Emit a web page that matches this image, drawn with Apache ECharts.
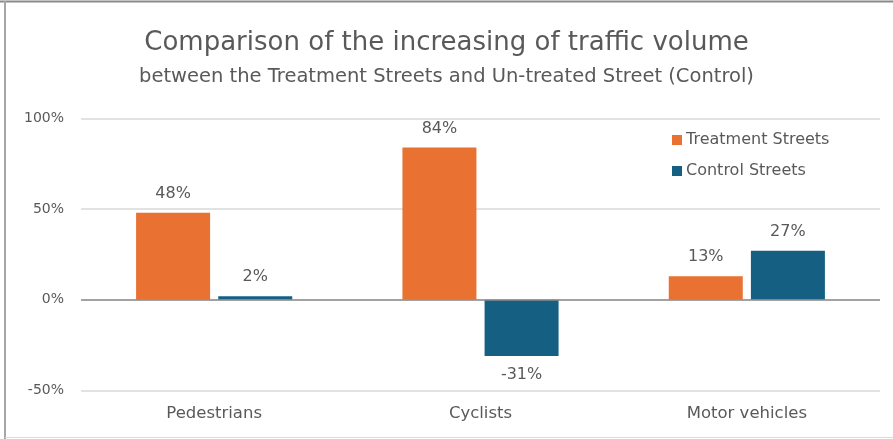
<!DOCTYPE html>
<html>
<head>
<meta charset="utf-8">
<script src="https://cdn.jsdelivr.net/npm/echarts@6/dist/echarts.min.js"></script>
<style>html,body{margin:0;padding:0;background:#fff}#c{width:893px;height:439px}</style>
</head>
<body>
<div id="c"></div>
<script>
var categories = ['Pedestrians', 'Cyclists', 'Motor vehicles'];
var treatment = [48, 84, 13];
var control = [2, -31, 27];
var yTicks = [-50, 0, 50, 100];

var FONT = 'DejaVu Sans';
var chart = echarts.init(document.getElementById('c'), null, {renderer: 'canvas'});
var labelStyle = {
  show: true, position: 'outside', distance: 11,
  formatter: function (p) { return p.value + '%'; },
  color: '#595959', fontSize: 16, fontFamily: FONT
};
chart.setOption({
  animation: false,
  backgroundColor: '#fff',
  graphic: [
    {type: 'line', shape: {x1: 0, y1: 1.5, x2: 893, y2: 1.5}, style: {stroke: '#8a8a8a', lineWidth: 2}},
    {type: 'line', shape: {x1: 5, y1: 1, x2: 5, y2: 439}, style: {stroke: '#a6a6a6', lineWidth: 2}},
    {type: 'line', shape: {x1: 5, y1: 437.5, x2: 893, y2: 437.5}, style: {stroke: '#d9d9d9', lineWidth: 1}}
  ],
  title: [
    {text: 'Comparison of the increasing of traffic volume', left: 'center', top: 25,
     textStyle: {fontSize: 26, fontWeight: 'normal', color: '#595959', fontFamily: FONT}},
    {text: 'between the Treatment Streets and Un-treated Street (Control)', left: 'center', top: 62,
     textStyle: {fontSize: 19.5, fontWeight: 'normal', color: '#595959', fontFamily: FONT}}
  ],
  legend: {
    orient: 'vertical', left: 667, top: 127, itemWidth: 10, itemHeight: 10, itemGap: 15,
    icon: 'rect',
    textStyle: {fontSize: 16, color: '#595959', fontFamily: FONT, padding: [0, 0, 0, -1]},
    data: ['Treatment Streets', 'Control Streets']
  },
  grid: {left: 81, right: 13, top: 118.5, bottom: 48.5, containLabel: false},
  xAxis: {
    type: 'category', data: categories,
    axisLine: {show: false}, axisTick: {show: false},
    axisLabel: {color: '#595959', fontSize: 16.5, fontFamily: FONT, margin: 15}
  },
  yAxis: {
    type: 'value', min: -50, max: 100, interval: 50,
    axisLine: {show: false}, axisTick: {show: false},
    axisLabel: {color: '#595959', fontSize: 14, fontFamily: FONT, margin: 17,
      formatter: function (v) { return yTicks.indexOf(v) >= 0 ? v + '%' : ''; }},
    splitLine: {lineStyle: {color: '#d9d9d9', width: 1.5}}
  },
  series: [
    {name: 'Treatment Streets', type: 'bar', data: treatment, barWidth: 74, barGap: '11%',
     itemStyle: {color: '#E97132'}, label: labelStyle,
     markLine: {silent: true, symbol: 'none', label: {show: false},
       lineStyle: {color: '#8c8c8c', type: 'solid', width: 1.5}, data: [{yAxis: 0}]}},
    {name: 'Control Streets', type: 'bar', data: control, barWidth: 74, barGap: '11%',
     itemStyle: {color: '#156082'}, label: labelStyle}
  ]
});
</script>
</body>
</html>
